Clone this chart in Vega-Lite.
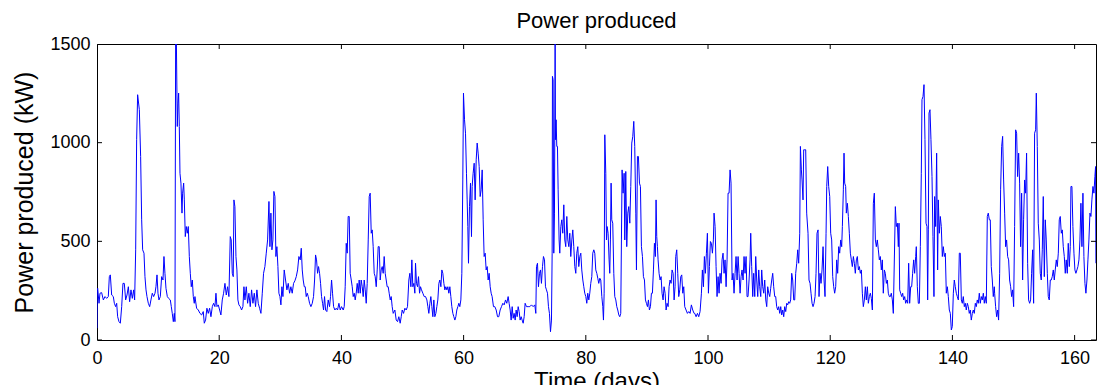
{
"$schema": "https://vega.github.io/schema/vega-lite/v6.json",
"width": 999, "height": 296,
"autosize": {"type": "none"},
"padding": {"left": 97, "top": 44, "right": 1, "bottom": 45},
"background": "white",
"config": {"view": {"stroke": "black", "strokeWidth": 1}, "font": "Liberation Sans"},
"title": {"text": "Power produced", "fontSize": 22, "fontWeight": "normal", "font": "Liberation Sans", "color": "black", "offset": 2, "anchor": "middle"},
"datasets": {
"xt": [{"t":0},{"t":20},{"t":40},{"t":60},{"t":80},{"t":100},{"t":120},{"t":140},{"t":160}],
"yt": [{"t":0},{"t":500},{"t":1000},{"t":1500}],
"series": [
{"day":0,"kw":60},{"day":0.05,"kw":250},{"day":0.11,"kw":262},{"day":0.33,"kw":186},{"day":0.49,"kw":237},{"day":0.76,"kw":240},{"day":1.04,"kw":203},{"day":1.31,"kw":220},{"day":1.58,"kw":211},{"day":1.85,"kw":220},{"day":2.02,"kw":321},{"day":2.18,"kw":330},{"day":2.4,"kw":228},{"day":2.67,"kw":220},{"day":2.84,"kw":186},{"day":3.05,"kw":169},{"day":3.22,"kw":186},{"day":3.38,"kw":118},{"day":3.6,"kw":93},{"day":3.82,"kw":85},{"day":4.04,"kw":169},{"day":4.25,"kw":287},{"day":4.47,"kw":287},{"day":4.69,"kw":203},{"day":4.91,"kw":228},{"day":5.13,"kw":270},{"day":5.34,"kw":194},{"day":5.56,"kw":254},{"day":5.78,"kw":211},{"day":6.0,"kw":254},{"day":6.16,"kw":203},{"day":6.33,"kw":457},{"day":6.49,"kw":1015},{"day":6.65,"kw":1243},{"day":6.93,"kw":1167},{"day":7.14,"kw":930},{"day":7.31,"kw":609},{"day":7.47,"kw":457},{"day":7.69,"kw":440},{"day":7.85,"kw":321},{"day":8.02,"kw":254},{"day":8.18,"kw":220},{"day":8.4,"kw":186},{"day":8.62,"kw":169},{"day":8.83,"kw":203},{"day":9.05,"kw":237},{"day":9.27,"kw":220},{"day":9.49,"kw":237},{"day":9.65,"kw":270},{"day":9.82,"kw":330},{"day":9.98,"kw":237},{"day":10.14,"kw":203},{"day":10.36,"kw":220},{"day":10.58,"kw":321},{"day":10.8,"kw":304},{"day":10.96,"kw":423},{"day":11.12,"kw":338},{"day":11.29,"kw":262},{"day":11.51,"kw":220},{"day":11.72,"kw":211},{"day":12.0,"kw":203},{"day":12.16,"kw":169},{"day":12.32,"kw":135},{"day":12.49,"kw":93},{"day":12.65,"kw":135},{"day":12.76,"kw":93},{"day":12.87,"kw":1550},{"day":12.98,"kw":1550},{"day":13.14,"kw":1082},{"day":13.25,"kw":1200},{"day":13.36,"kw":1251},{"day":13.47,"kw":1082},{"day":13.58,"kw":845},{"day":13.74,"kw":795},{"day":13.91,"kw":643},{"day":14.01,"kw":744},{"day":14.18,"kw":795},{"day":14.29,"kw":710},{"day":14.45,"kw":524},{"day":14.61,"kw":575},{"day":14.78,"kw":541},{"day":14.94,"kw":575},{"day":15.11,"kw":423},{"day":15.27,"kw":338},{"day":15.43,"kw":270},{"day":15.6,"kw":304},{"day":15.76,"kw":220},{"day":15.92,"kw":186},
{"day":16.03,"kw":220},{"day":16.3,"kw":161},{"day":16.58,"kw":152},{"day":16.85,"kw":135},{"day":17.12,"kw":127},{"day":17.39,"kw":144},{"day":17.56,"kw":85},{"day":17.77,"kw":101},{"day":17.99,"kw":161},{"day":18.21,"kw":135},{"day":18.43,"kw":161},{"day":18.65,"kw":118},{"day":18.87,"kw":169},{"day":19.08,"kw":186},{"day":19.3,"kw":169},{"day":19.47,"kw":237},{"day":19.63,"kw":169},{"day":19.85,"kw":178},{"day":20.07,"kw":152},{"day":20.28,"kw":127},{"day":20.5,"kw":203},{"day":20.72,"kw":237},{"day":20.94,"kw":287},{"day":21.16,"kw":228},{"day":21.37,"kw":270},{"day":21.59,"kw":220},{"day":21.81,"kw":524},{"day":21.97,"kw":507},{"day":22.14,"kw":338},{"day":22.3,"kw":321},{"day":22.41,"kw":710},{"day":22.57,"kw":676},{"day":22.74,"kw":423},{"day":22.9,"kw":355},{"day":23.06,"kw":203},{"day":23.23,"kw":178},{"day":23.45,"kw":169},{"day":23.66,"kw":152},{"day":23.88,"kw":169},{"day":24.05,"kw":270},{"day":24.21,"kw":203},{"day":24.43,"kw":270},{"day":24.65,"kw":186},{"day":24.86,"kw":237},{"day":25.08,"kw":169},{"day":25.3,"kw":254},{"day":25.52,"kw":186},{"day":25.74,"kw":237},{"day":25.95,"kw":169},{"day":26.17,"kw":254},{"day":26.39,"kw":186},{"day":26.61,"kw":161},{"day":26.83,"kw":135},{"day":27.05,"kw":237},{"day":27.26,"kw":338},{"day":27.48,"kw":372},{"day":27.7,"kw":440},{"day":27.92,"kw":507},{"day":28.14,"kw":702},{"day":28.3,"kw":473},{"day":28.46,"kw":643},{"day":28.63,"kw":457},{"day":28.79,"kw":507},{"day":28.95,"kw":753},{"day":29.12,"kw":727},{"day":29.28,"kw":423},{"day":29.44,"kw":473},{"day":29.61,"kw":372},{"day":29.77,"kw":237},{"day":29.94,"kw":220},{"day":30.1,"kw":178},{"day":30.26,"kw":270},{"day":30.43,"kw":220},{"day":30.64,"kw":355},{"day":30.86,"kw":304},{"day":31.08,"kw":254},{"day":31.3,"kw":287},{"day":31.52,"kw":237},{"day":31.73,"kw":270},{"day":31.95,"kw":237},{"day":32.17,"kw":287},
{"day":32.39,"kw":300},{"day":32.61,"kw":321},{"day":32.83,"kw":355},{"day":33.04,"kw":423},{"day":33.26,"kw":406},{"day":33.43,"kw":465},{"day":33.59,"kw":355},{"day":33.75,"kw":304},{"day":33.92,"kw":270},{"day":34.08,"kw":270},{"day":34.24,"kw":220},{"day":34.41,"kw":237},{"day":34.57,"kw":220},{"day":34.79,"kw":186},{"day":35.01,"kw":169},{"day":35.23,"kw":186},{"day":35.44,"kw":220},{"day":35.61,"kw":304},{"day":35.77,"kw":431},{"day":35.93,"kw":406},{"day":36.1,"kw":338},{"day":36.26,"kw":372},{"day":36.43,"kw":338},{"day":36.59,"kw":287},{"day":36.75,"kw":220},{"day":36.92,"kw":186},{"day":37.08,"kw":152},{"day":37.24,"kw":220},{"day":37.41,"kw":152},{"day":37.62,"kw":144},{"day":37.84,"kw":203},{"day":38.06,"kw":169},{"day":38.22,"kw":220},{"day":38.39,"kw":304},{"day":38.55,"kw":237},{"day":38.72,"kw":169},{"day":38.93,"kw":152},{"day":39.15,"kw":161},{"day":39.37,"kw":152},{"day":39.59,"kw":186},{"day":39.81,"kw":152},{"day":40.02,"kw":169},{"day":40.3,"kw":152},{"day":40.46,"kw":169},{"day":40.62,"kw":270},{"day":40.79,"kw":490},{"day":40.95,"kw":440},{"day":41.11,"kw":626},{"day":41.28,"kw":626},{"day":41.44,"kw":338},{"day":41.61,"kw":304},{"day":41.77,"kw":270},{"day":41.93,"kw":220},{"day":42.1,"kw":237},{"day":42.26,"kw":203},{"day":42.42,"kw":237},{"day":42.59,"kw":287},{"day":42.75,"kw":237},{"day":42.91,"kw":304},{"day":43.08,"kw":237},{"day":43.24,"kw":304},{"day":43.41,"kw":270},{"day":43.57,"kw":220},{"day":43.73,"kw":304},{"day":43.9,"kw":254},{"day":44.06,"kw":186},{"day":44.22,"kw":287},{"day":44.39,"kw":507},{"day":44.55,"kw":727},{"day":44.71,"kw":744},{"day":44.88,"kw":541},{"day":45.04,"kw":558},{"day":45.2,"kw":473},{"day":45.37,"kw":338},{"day":45.53,"kw":321},{"day":45.7,"kw":270},{"day":45.86,"kw":355},{"day":46.02,"kw":473},{"day":46.19,"kw":473},{"day":46.35,"kw":304},{"day":46.51,"kw":355},{"day":46.68,"kw":372},{"day":46.84,"kw":338},{"day":47.0,"kw":423},{"day":47.17,"kw":338},{"day":47.33,"kw":304},{"day":47.49,"kw":270},{"day":47.66,"kw":270},{"day":47.82,"kw":237},{"day":47.99,"kw":203},{"day":48.15,"kw":220},{"day":48.31,"kw":169},{"day":48.48,"kw":135},
{"day":48.75,"kw":152},{"day":48.97,"kw":101},{"day":49.19,"kw":93},{"day":49.4,"kw":118},{"day":49.62,"kw":85},{"day":49.79,"kw":118},{"day":49.95,"kw":152},{"day":50.17,"kw":135},{"day":50.39,"kw":161},{"day":50.6,"kw":152},{"day":50.82,"kw":169},{"day":51.04,"kw":304},{"day":51.2,"kw":338},{"day":51.37,"kw":270},{"day":51.53,"kw":406},{"day":51.69,"kw":270},{"day":51.86,"kw":287},{"day":52.02,"kw":237},{"day":52.13,"kw":389},{"day":52.29,"kw":287},{"day":52.46,"kw":270},{"day":52.62,"kw":321},{"day":52.79,"kw":237},{"day":52.95,"kw":270},{"day":53.11,"kw":254},{"day":53.33,"kw":237},{"day":53.55,"kw":220},{"day":53.77,"kw":220},{"day":53.99,"kw":203},{"day":54.15,"kw":169},{"day":54.31,"kw":135},{"day":54.48,"kw":186},{"day":54.64,"kw":220},{"day":54.8,"kw":169},{"day":54.97,"kw":118},{"day":55.13,"kw":203},{"day":55.29,"kw":118},{"day":55.46,"kw":135},{"day":55.62,"kw":169},{"day":55.78,"kw":203},{"day":55.95,"kw":287},{"day":56.11,"kw":304},{"day":56.28,"kw":270},{"day":56.44,"kw":355},{"day":56.6,"kw":338},{"day":56.77,"kw":287},{"day":56.93,"kw":254},{"day":57.09,"kw":270},{"day":57.26,"kw":254},{"day":57.42,"kw":270},{"day":57.58,"kw":237},{"day":57.75,"kw":270},{"day":57.91,"kw":220},{"day":58.07,"kw":169},{"day":58.24,"kw":135},{"day":58.4,"kw":118},{"day":58.57,"kw":101},{"day":58.73,"kw":118},{"day":58.89,"kw":152},{"day":59.06,"kw":169},{"day":59.22,"kw":186},{"day":59.38,"kw":169},{"day":59.55,"kw":203},{"day":59.71,"kw":338},{"day":59.87,"kw":811},{"day":59.98,"kw":1251},{"day":60.15,"kw":1116},{"day":60.31,"kw":1048},{"day":60.47,"kw":845},{"day":60.58,"kw":710},{"day":60.69,"kw":575},{"day":60.8,"kw":389},{"day":60.96,"kw":676},{"day":61.13,"kw":795},{"day":61.29,"kw":524},{"day":61.4,"kw":778},{"day":61.56,"kw":845},{"day":61.73,"kw":896},{"day":61.89,"kw":710},{"day":62.06,"kw":913},{"day":62.22,"kw":998},{"day":62.38,"kw":947},{"day":62.55,"kw":879},{"day":62.71,"kw":727},{"day":62.87,"kw":761},{"day":63.04,"kw":862},{"day":63.2,"kw":609},{"day":63.36,"kw":423},{"day":63.53,"kw":440},{"day":63.69,"kw":355},{"day":63.86,"kw":372},{"day":64.02,"kw":304},{"day":64.18,"kw":338},{"day":64.35,"kw":270},{"day":64.51,"kw":237},{"day":64.67,"kw":220},{"day":64.89,"kw":169},
{"day":65.11,"kw":169},{"day":65.33,"kw":152},{"day":65.55,"kw":118},{"day":65.76,"kw":118},{"day":65.98,"kw":152},{"day":66.2,"kw":169},{"day":66.42,"kw":186},{"day":66.64,"kw":178},{"day":66.86,"kw":203},{"day":67.07,"kw":186},{"day":67.29,"kw":220},{"day":67.45,"kw":186},{"day":67.62,"kw":152},{"day":67.78,"kw":101},{"day":67.95,"kw":169},{"day":68.11,"kw":110},{"day":68.27,"kw":135},{"day":68.44,"kw":101},{"day":68.6,"kw":152},{"day":68.76,"kw":118},{"day":68.93,"kw":169},{"day":69.09,"kw":144},{"day":69.25,"kw":101},{"day":69.42,"kw":118},{"day":69.58,"kw":101},{"day":69.75,"kw":85},{"day":69.91,"kw":118},{"day":70.07,"kw":186},{"day":70.29,"kw":169},{"day":70.56,"kw":169},{"day":70.84,"kw":169},{"day":71.11,"kw":178},{"day":71.38,"kw":169},{"day":71.65,"kw":178},{"day":71.82,"kw":135},{"day":71.93,"kw":372},{"day":72.09,"kw":389},{"day":72.25,"kw":270},{"day":72.42,"kw":338},{"day":72.58,"kw":355},{"day":72.74,"kw":287},{"day":72.91,"kw":372},{"day":73.07,"kw":423},{"day":73.24,"kw":406},{"day":73.4,"kw":270},{"day":73.56,"kw":254},{"day":73.73,"kw":237},{"day":73.89,"kw":169},{"day":74.05,"kw":135},{"day":74.22,"kw":42},{"day":74.38,"kw":101},{"day":74.49,"kw":440},{"day":74.54,"kw":1336},{"day":74.65,"kw":1319},{"day":74.76,"kw":440},{"day":74.87,"kw":643},{"day":74.98,"kw":1530},{"day":75.03,"kw":1015},{"day":75.14,"kw":1116},{"day":75.25,"kw":981},{"day":75.36,"kw":981},{"day":75.47,"kw":761},{"day":75.63,"kw":507},{"day":75.74,"kw":440},{"day":75.91,"kw":575},{"day":76.07,"kw":609},{"day":76.23,"kw":541},{"day":76.4,"kw":685},{"day":76.56,"kw":507},{"day":76.72,"kw":473},{"day":76.89,"kw":626},{"day":77.05,"kw":507},{"day":77.22,"kw":473},{"day":77.38,"kw":541},{"day":77.54,"kw":423},{"day":77.71,"kw":507},{"day":77.87,"kw":558},{"day":78.03,"kw":473},{"day":78.2,"kw":372},{"day":78.36,"kw":338},{"day":78.52,"kw":440},{"day":78.69,"kw":473},{"day":78.85,"kw":372},{"day":79.02,"kw":423},{"day":79.18,"kw":440},{"day":79.34,"kw":355},{"day":79.51,"kw":304},{"day":79.67,"kw":270},{"day":79.83,"kw":237},{"day":80.0,"kw":220},{"day":80.16,"kw":186},{"day":80.32,"kw":237},{"day":80.49,"kw":203},{"day":80.65,"kw":237},{"day":80.81,"kw":287},{"day":80.98,"kw":321},{"day":81.14,"kw":440},{"day":81.31,"kw":457},
{"day":81.47,"kw":440},{"day":81.63,"kw":355},{"day":81.8,"kw":338},{"day":81.96,"kw":313},{"day":82.12,"kw":287},{"day":82.29,"kw":313},{"day":82.45,"kw":304},{"day":82.62,"kw":220},{"day":82.78,"kw":169},{"day":82.89,"kw":101},{"day":83.0,"kw":237},{"day":83.11,"kw":1040},{"day":83.27,"kw":845},{"day":83.38,"kw":507},{"day":83.49,"kw":575},{"day":83.65,"kw":541},{"day":83.81,"kw":406},{"day":83.92,"kw":338},{"day":84.03,"kw":507},{"day":84.14,"kw":795},{"day":84.25,"kw":609},{"day":84.41,"kw":592},{"day":84.58,"kw":338},{"day":84.74,"kw":220},{"day":84.91,"kw":203},{"day":85.07,"kw":169},{"day":85.23,"kw":152},{"day":85.4,"kw":127},{"day":85.56,"kw":118},{"day":85.72,"kw":135},{"day":85.83,"kw":507},{"day":85.94,"kw":862},{"day":86.1,"kw":744},{"day":86.27,"kw":845},{"day":86.38,"kw":507},{"day":86.54,"kw":854},{"day":86.7,"kw":473},{"day":86.87,"kw":643},{"day":87.03,"kw":676},{"day":87.2,"kw":592},{"day":87.36,"kw":778},{"day":87.52,"kw":998},{"day":87.69,"kw":1032},{"day":87.85,"kw":1108},{"day":88.01,"kw":981},{"day":88.18,"kw":643},{"day":88.29,"kw":355},{"day":88.45,"kw":930},{"day":88.61,"kw":930},{"day":88.78,"kw":795},{"day":88.94,"kw":778},{"day":89.1,"kw":473},{"day":89.27,"kw":423},{"day":89.43,"kw":321},{"day":89.6,"kw":304},{"day":89.76,"kw":203},{"day":89.92,"kw":186},{"day":90.09,"kw":169},{"day":90.25,"kw":203},{"day":90.41,"kw":152},{"day":90.58,"kw":169},{"day":90.74,"kw":237},{"day":90.9,"kw":237},{"day":91.07,"kw":355},{"day":91.23,"kw":490},{"day":91.39,"kw":423},{"day":91.5,"kw":710},{"day":91.61,"kw":524},{"day":91.72,"kw":473},{"day":91.83,"kw":406},{"day":91.99,"kw":338},{"day":92.16,"kw":304},{"day":92.32,"kw":321},{"day":92.48,"kw":237},{"day":92.65,"kw":203},{"day":92.81,"kw":270},{"day":92.98,"kw":237},{"day":93.14,"kw":152},{"day":93.3,"kw":186},{"day":93.47,"kw":169},{"day":93.63,"kw":270},{"day":93.79,"kw":304},{"day":93.96,"kw":287},{"day":94.12,"kw":355},{"day":94.29,"kw":338},{"day":94.45,"kw":203},{"day":94.61,"kw":270},{"day":94.72,"kw":423},{"day":94.88,"kw":457},{"day":95.05,"kw":338},{"day":95.21,"kw":220},{"day":95.38,"kw":254},{"day":95.54,"kw":321},{"day":95.7,"kw":330},{"day":95.87,"kw":237},{"day":96.03,"kw":270},{"day":96.19,"kw":169},{"day":96.41,"kw":152},{"day":96.63,"kw":135},{"day":96.85,"kw":144},{"day":97.07,"kw":135},{"day":97.28,"kw":178},{"day":97.5,"kw":152},{"day":97.72,"kw":135},
{"day":97.83,"kw":135},{"day":98.05,"kw":118},{"day":98.27,"kw":135},{"day":98.48,"kw":118},{"day":98.7,"kw":144},{"day":98.92,"kw":237},{"day":99.08,"kw":355},{"day":99.25,"kw":270},{"day":99.41,"kw":423},{"day":99.57,"kw":338},{"day":99.74,"kw":440},{"day":99.9,"kw":541},{"day":100.07,"kw":237},{"day":100.23,"kw":372},{"day":100.39,"kw":499},{"day":100.56,"kw":490},{"day":100.72,"kw":440},{"day":100.88,"kw":507},{"day":100.99,"kw":643},{"day":101.16,"kw":575},{"day":101.32,"kw":372},{"day":101.48,"kw":220},{"day":101.65,"kw":321},{"day":101.81,"kw":237},{"day":101.97,"kw":338},{"day":102.14,"kw":287},{"day":102.3,"kw":406},{"day":102.46,"kw":440},{"day":102.63,"kw":338},{"day":102.79,"kw":406},{"day":102.96,"kw":270},{"day":103.12,"kw":406},{"day":103.28,"kw":744},{"day":103.45,"kw":744},{"day":103.61,"kw":862},{"day":103.77,"kw":795},{"day":103.94,"kw":304},{"day":104.1,"kw":338},{"day":104.26,"kw":237},{"day":104.43,"kw":338},{"day":104.59,"kw":423},{"day":104.76,"kw":304},{"day":104.92,"kw":423},{"day":105.08,"kw":338},{"day":105.25,"kw":237},{"day":105.41,"kw":321},{"day":105.57,"kw":355},{"day":105.74,"kw":304},{"day":105.9,"kw":423},{"day":106.06,"kw":338},{"day":106.23,"kw":423},{"day":106.39,"kw":220},{"day":106.55,"kw":220},{"day":106.72,"kw":304},{"day":106.88,"kw":406},{"day":106.99,"kw":541},{"day":107.15,"kw":372},{"day":107.32,"kw":220},{"day":107.48,"kw":338},{"day":107.65,"kw":220},{"day":107.81,"kw":423},{"day":107.97,"kw":304},{"day":108.14,"kw":220},{"day":108.3,"kw":355},{"day":108.46,"kw":270},{"day":108.63,"kw":220},{"day":108.79,"kw":355},{"day":108.95,"kw":270},{"day":109.12,"kw":237},{"day":109.28,"kw":304},{"day":109.45,"kw":203},{"day":109.61,"kw":169},{"day":109.77,"kw":270},{"day":109.94,"kw":237},{"day":110.1,"kw":220},{"day":110.26,"kw":262},{"day":110.43,"kw":304},{"day":110.59,"kw":338},{"day":110.75,"kw":270},{"day":110.92,"kw":220},{"day":111.08,"kw":220},{"day":111.24,"kw":169},{"day":111.41,"kw":152},{"day":111.57,"kw":169},{"day":111.74,"kw":135},{"day":111.9,"kw":169},{"day":112.06,"kw":127},{"day":112.23,"kw":152},{"day":112.39,"kw":118},{"day":112.55,"kw":169},{"day":112.72,"kw":144},{"day":112.88,"kw":186},{"day":113.04,"kw":178},{"day":113.21,"kw":194},{"day":113.37,"kw":186},{"day":113.53,"kw":203},{"day":113.7,"kw":338},{"day":113.86,"kw":304},{"day":114.03,"kw":203},
{"day":114.19,"kw":203},{"day":114.35,"kw":338},{"day":114.52,"kw":389},{"day":114.68,"kw":457},{"day":114.84,"kw":389},{"day":115.01,"kw":541},{"day":115.12,"kw":981},{"day":115.28,"kw":862},{"day":115.39,"kw":811},{"day":115.55,"kw":710},{"day":115.66,"kw":964},{"day":115.83,"kw":964},{"day":115.99,"kw":964},{"day":116.15,"kw":643},{"day":116.37,"kw":541},{"day":116.53,"kw":304},{"day":116.7,"kw":287},{"day":116.86,"kw":237},{"day":117.03,"kw":186},{"day":117.19,"kw":169},{"day":117.35,"kw":186},{"day":117.52,"kw":220},{"day":117.68,"kw":338},{"day":117.84,"kw":541},{"day":118.01,"kw":558},{"day":118.17,"kw":220},{"day":118.33,"kw":338},{"day":118.5,"kw":287},{"day":118.66,"kw":355},{"day":118.83,"kw":473},{"day":118.99,"kw":304},{"day":119.15,"kw":220},{"day":119.32,"kw":541},{"day":119.43,"kw":778},{"day":119.59,"kw":879},{"day":119.75,"kw":778},{"day":119.92,"kw":727},{"day":120.08,"kw":541},{"day":120.24,"kw":507},{"day":120.41,"kw":321},{"day":120.57,"kw":270},{"day":120.73,"kw":237},{"day":120.9,"kw":270},{"day":121.06,"kw":406},{"day":121.22,"kw":338},{"day":121.39,"kw":473},{"day":121.55,"kw":440},{"day":121.72,"kw":507},{"day":121.88,"kw":473},{"day":121.99,"kw":575},{"day":122.15,"kw":761},{"day":122.26,"kw":947},{"day":122.37,"kw":795},{"day":122.53,"kw":778},{"day":122.64,"kw":643},{"day":122.81,"kw":693},{"day":122.97,"kw":626},{"day":123.13,"kw":541},{"day":123.3,"kw":440},{"day":123.46,"kw":406},{"day":123.62,"kw":372},{"day":123.79,"kw":423},{"day":123.95,"kw":389},{"day":124.11,"kw":338},{"day":124.28,"kw":406},{"day":124.44,"kw":423},{"day":124.61,"kw":355},{"day":124.77,"kw":372},{"day":124.93,"kw":338},{"day":125.1,"kw":355},{"day":125.26,"kw":237},{"day":125.42,"kw":169},{"day":125.59,"kw":203},{"day":125.75,"kw":270},{"day":125.91,"kw":203},{"day":126.08,"kw":270},{"day":126.24,"kw":186},{"day":126.41,"kw":220},{"day":126.57,"kw":237},{"day":126.73,"kw":211},{"day":126.9,"kw":152},{"day":127.06,"kw":693},{"day":127.22,"kw":744},{"day":127.39,"kw":507},{"day":127.55,"kw":473},{"day":127.71,"kw":507},{"day":127.88,"kw":457},{"day":128.04,"kw":406},{"day":128.2,"kw":423},{"day":128.37,"kw":355},{"day":128.53,"kw":406},{"day":128.69,"kw":237},{"day":128.86,"kw":355},{"day":129.02,"kw":338},{"day":129.19,"kw":287},{"day":129.35,"kw":304},{"day":129.51,"kw":237},{"day":129.68,"kw":220},{"day":129.84,"kw":220},{"day":130.0,"kw":237},{"day":130.17,"kw":203},{"day":130.33,"kw":135},
{"day":130.66,"kw":676},{"day":130.82,"kw":575},{"day":130.99,"kw":592},{"day":131.15,"kw":473},{"day":131.26,"kw":592},{"day":131.37,"kw":254},{"day":131.53,"kw":237},{"day":131.7,"kw":220},{"day":131.86,"kw":237},{"day":132.02,"kw":203},{"day":132.19,"kw":220},{"day":132.35,"kw":186},{"day":132.51,"kw":203},{"day":132.68,"kw":186},{"day":132.84,"kw":389},{"day":133.0,"kw":186},{"day":133.17,"kw":270},{"day":133.33,"kw":270},{"day":133.49,"kw":338},{"day":133.66,"kw":406},{"day":133.82,"kw":338},{"day":133.99,"kw":423},{"day":134.09,"kw":473},{"day":134.26,"kw":270},{"day":134.42,"kw":186},{"day":134.59,"kw":186},{"day":134.75,"kw":473},{"day":134.91,"kw":845},{"day":135.02,"kw":1218},{"day":135.19,"kw":1234},{"day":135.35,"kw":1294},{"day":135.51,"kw":1015},{"day":135.68,"kw":592},{"day":135.84,"kw":575},{"day":135.95,"kw":203},{"day":136.06,"kw":558},{"day":136.17,"kw":1150},{"day":136.33,"kw":1167},{"day":136.49,"kw":1015},{"day":136.66,"kw":828},{"day":136.82,"kw":524},{"day":136.98,"kw":220},{"day":137.09,"kw":727},{"day":137.26,"kw":575},{"day":137.42,"kw":947},{"day":137.58,"kw":355},{"day":137.69,"kw":710},{"day":137.86,"kw":541},{"day":138.02,"kw":626},{"day":138.18,"kw":575},{"day":138.35,"kw":423},{"day":138.51,"kw":473},{"day":138.68,"kw":423},{"day":138.84,"kw":440},{"day":139.0,"kw":237},{"day":139.17,"kw":270},{"day":139.33,"kw":220},{"day":139.49,"kw":152},{"day":139.66,"kw":135},{"day":139.82,"kw":51},{"day":139.98,"kw":68},{"day":140.15,"kw":237},{"day":140.31,"kw":304},{"day":140.47,"kw":270},{"day":140.64,"kw":237},{"day":140.8,"kw":220},{"day":140.97,"kw":203},{"day":141.13,"kw":440},{"day":141.29,"kw":440},{"day":141.46,"kw":203},{"day":141.62,"kw":186},{"day":141.78,"kw":220},{"day":141.95,"kw":169},{"day":142.11,"kw":186},{"day":142.27,"kw":152},{"day":142.44,"kw":186},{"day":142.6,"kw":169},{"day":142.76,"kw":135},{"day":142.93,"kw":152},{"day":143.09,"kw":101},{"day":143.26,"kw":135},{"day":143.42,"kw":152},{"day":143.58,"kw":135},{"day":143.75,"kw":186},{"day":143.91,"kw":169},{"day":144.07,"kw":203},{"day":144.24,"kw":186},{"day":144.4,"kw":237},{"day":144.56,"kw":186},{"day":144.73,"kw":220},{"day":144.89,"kw":203},{"day":145.06,"kw":237},{"day":145.22,"kw":186},{"day":145.38,"kw":220},{"day":145.55,"kw":186},{"day":145.71,"kw":626},{"day":145.87,"kw":643},{"day":146.04,"kw":609},{"day":146.2,"kw":609},{"day":146.36,"kw":372},{"day":146.53,"kw":304},{"day":146.69,"kw":220},{"day":146.85,"kw":270},
{"day":146.91,"kw":237},{"day":147.07,"kw":169},{"day":147.24,"kw":118},{"day":147.4,"kw":152},{"day":147.56,"kw":101},{"day":147.73,"kw":338},{"day":147.89,"kw":761},{"day":148.06,"kw":981},{"day":148.22,"kw":1032},{"day":148.38,"kw":811},{"day":148.55,"kw":643},{"day":148.71,"kw":473},{"day":148.87,"kw":507},{"day":149.04,"kw":423},{"day":149.2,"kw":406},{"day":149.36,"kw":304},{"day":149.53,"kw":270},{"day":149.69,"kw":220},{"day":149.85,"kw":254},{"day":150.02,"kw":169},{"day":150.18,"kw":575},{"day":150.35,"kw":1065},{"day":150.51,"kw":1048},{"day":150.67,"kw":828},{"day":150.84,"kw":947},{"day":151.0,"kw":795},{"day":151.16,"kw":473},{"day":151.33,"kw":744},{"day":151.49,"kw":304},{"day":151.65,"kw":609},{"day":151.82,"kw":811},{"day":151.98,"kw":744},{"day":152.14,"kw":947},{"day":152.31,"kw":389},{"day":152.47,"kw":203},{"day":152.64,"kw":186},{"day":152.8,"kw":203},{"day":152.96,"kw":338},{"day":153.13,"kw":457},{"day":153.29,"kw":186},{"day":153.45,"kw":1048},{"day":153.62,"kw":1065},{"day":153.73,"kw":1251},{"day":153.89,"kw":981},{"day":154.05,"kw":592},{"day":154.22,"kw":507},{"day":154.38,"kw":338},{"day":154.54,"kw":304},{"day":154.71,"kw":457},{"day":154.87,"kw":727},{"day":155.04,"kw":321},{"day":155.2,"kw":609},{"day":155.36,"kw":507},{"day":155.53,"kw":338},{"day":155.69,"kw":220},{"day":155.85,"kw":203},{"day":156.02,"kw":304},{"day":156.18,"kw":304},{"day":156.34,"kw":321},{"day":156.51,"kw":355},{"day":156.67,"kw":304},{"day":156.83,"kw":355},{"day":157.0,"kw":406},{"day":157.16,"kw":372},{"day":157.33,"kw":440},{"day":157.49,"kw":609},{"day":157.65,"kw":626},{"day":157.82,"kw":541},{"day":157.98,"kw":558},{"day":158.14,"kw":473},{"day":158.31,"kw":423},{"day":158.47,"kw":338},{"day":158.63,"kw":406},{"day":158.8,"kw":338},{"day":158.96,"kw":490},{"day":159.13,"kw":372},{"day":159.29,"kw":473},{"day":159.4,"kw":778},{"day":159.56,"kw":778},{"day":159.72,"kw":575},{"day":159.89,"kw":440},{"day":160.05,"kw":355},{"day":160.21,"kw":338},{"day":160.38,"kw":355},{"day":160.54,"kw":372},{"day":160.71,"kw":406},{"day":160.87,"kw":507},{"day":161.03,"kw":693},{"day":161.2,"kw":473},{"day":161.36,"kw":744},{"day":161.52,"kw":423},{"day":161.69,"kw":287},{"day":161.85,"kw":237},{"day":162.02,"kw":304},{"day":162.18,"kw":406},{"day":162.34,"kw":507},{"day":162.51,"kw":643},{"day":162.67,"kw":626},{"day":162.83,"kw":710},{"day":163.0,"kw":778},{"day":163.16,"kw":744},{"day":163.32,"kw":828},{"day":163.43,"kw":879},{"day":163.49,"kw":389}
]},
"layer": [
 {"data": {"name": "series"},
  "mark": {"type": "line", "color": "#0000ff", "strokeWidth": 1, "clip": true},
  "encoding": {
   "x": {"field": "day", "type": "quantitative", "scale": {"domain": [0, 163.5], "nice": false, "zero": false},
         "axis": {"orient": "bottom", "values": [0,20,40,60,80,100,120,140,160], "grid": false, "domain": false, "ticks": false, "labelPadding": 9, "labelFontSize": 18, "labelColor": "black", "labelFont": "Liberation Sans", "title": "Time (days)", "titleFontSize": 24, "titleFontWeight": "normal", "titleColor": "black", "titleFont": "Liberation Sans", "titlePadding": 2, "labelFlush": false}},
   "y": {"field": "kw", "type": "quantitative", "scale": {"domain": [0, 1500], "nice": false},
         "axis": {"orient": "left", "values": [0,500,1000,1500], "format": "d", "grid": false, "domain": false, "ticks": false, "labelPadding": 7, "labelFontSize": 18, "labelColor": "black", "labelFont": "Liberation Sans", "title": "Power produced (kW)", "titleFontSize": 25, "titleFontWeight": "normal", "titleColor": "black", "titleFont": "Liberation Sans", "titlePadding": 12}}
  }},
 {"data": {"name": "xt"},
  "mark": {"type": "tick", "orient": "vertical", "color": "black", "size": 10, "thickness": 1, "clip": true, "opacity": 1},
  "encoding": {"x": {"field": "t", "type": "quantitative", "axis": null}, "y": {"datum": 0, "type": "quantitative", "axis": null}}},
 {"data": {"name": "xt"},
  "mark": {"type": "tick", "orient": "vertical", "color": "black", "size": 10, "thickness": 1, "clip": true, "opacity": 1},
  "encoding": {"x": {"field": "t", "type": "quantitative", "axis": null}, "y": {"datum": 1500, "type": "quantitative", "axis": null}}},
 {"data": {"name": "yt"},
  "mark": {"type": "tick", "orient": "horizontal", "color": "black", "size": 10, "thickness": 1, "clip": true, "opacity": 1},
  "encoding": {"y": {"field": "t", "type": "quantitative", "axis": null}, "x": {"datum": 0, "type": "quantitative", "axis": null}}},
 {"data": {"name": "yt"},
  "mark": {"type": "tick", "orient": "horizontal", "color": "black", "size": 10, "thickness": 1, "clip": true, "opacity": 1},
  "encoding": {"y": {"field": "t", "type": "quantitative", "axis": null}, "x": {"datum": 163.5, "type": "quantitative", "axis": null}}}
],
"resolve": {"axis": {"x": "independent", "y": "independent"}}
}
